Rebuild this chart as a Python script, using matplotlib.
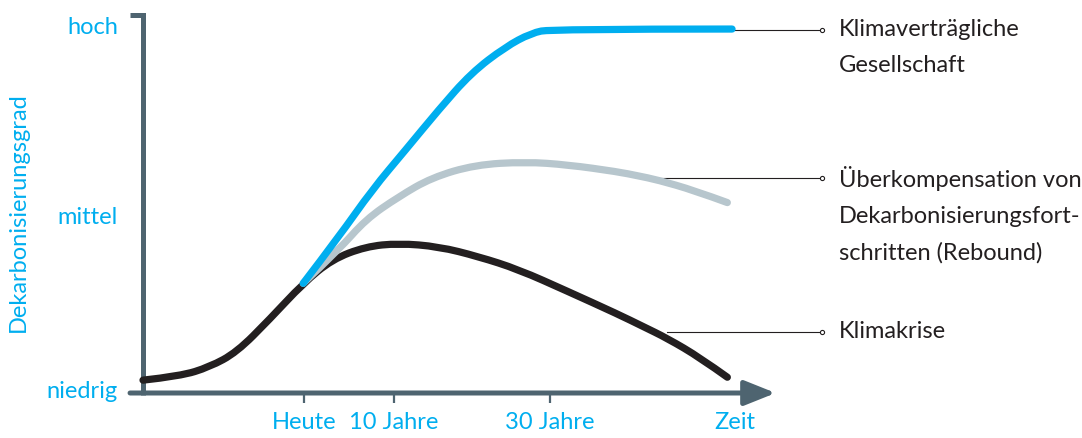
import numpy as np
import matplotlib
matplotlib.use("Agg")
import matplotlib.pyplot as plt
from matplotlib.path import Path
from matplotlib.patches import PathPatch

plt.rcParams["font.family"] = ["Lato", "DejaVu Sans"]

BLUE = "#00AEEF"
GREY = "#B7C6CD"
BLACK = "#231F20"
SLATE = "#4E6470"

# schematic scale: x = position on time axis (0..100 = origin..Zeit),
# y = Dekarbonisierungsgrad (0 = axis, 100 = hoch)
krise_x = [0, 6.3, 11.3, 15.9, 21.5, 27.2, 32.1, 37.8, 43.4, 50.2, 56.9, 63.7, 72.1, 80.6, 84.8, 89.0, 94.6, 99.2]
krise_y = [3.5, 4.6, 7.1, 11.1, 20.1, 29.9, 36.4, 39.9, 40.8, 39.9, 37.2, 33.7, 27.7, 21.5, 18.2, 14.9, 9.6, 4.3]

rebound_x = [27.2, 33.3, 37.8, 43.4, 49.0, 56.4, 64.9, 72.1, 80.6, 84.0, 87.3, 93.6, 99.2]
rebound_y = [29.9, 39.1, 47.3, 53.5, 58.7, 62.2, 63.0, 62.2, 60.3, 59.2, 58.1, 55.2, 51.9]

klima_x = [27.2, 33.3, 38.9, 44.6, 50.2, 55.7, 61.5, 65.9, 69.3, 100]
klima_y = [29.9, 42.7, 55.4, 66.3, 77.2, 87.2, 94.3, 98.1, 99.2, 99.2]

xtick_pos = [27.4, 42.6, 69.1, 100.5]
xtick_lab = ["Heute", "10 Jahre", "30 Jahre", "Zeit"]
ytick_pos = [1.1, 48.6, 100.3]
ytick_lab = ["niedrig", "mittel", "hoch"]

# label text, y of leader line, x where leader starts on the curve
callouts = [
    ("Klimaverträgliche\nGesellschaft", 98.9, 100.0),
    ("Überkompensation von\nDekarbonisierungsfort-\nschritten (Rebound)", 58.7, 87.3),
    ("Klimakrise", 16.6, 89.0),
]


def smooth_path(xs, ys):
    # read points used as quadratic bezier control points (midpoint scheme)
    pts = list(zip(xs, ys))
    verts = [pts[0]]
    codes = [Path.MOVETO]
    for i in range(1, len(pts) - 1):
        mid = ((pts[i][0] + pts[i + 1][0]) / 2, (pts[i][1] + pts[i + 1][1]) / 2)
        end = pts[i + 1] if i == len(pts) - 2 else mid
        verts += [pts[i], end]
        codes += [Path.CURVE3, Path.CURVE3]
    return Path(verts, codes)


fig = plt.figure(figsize=(10.82, 4.39), dpi=100)
W, H = 1082, 439
ax = fig.add_axes([143 / W, (H - 394) / H, 592 / W, 368 / H])
ax.set_xlim(0, 100)
ax.set_ylim(0, 100)
for sp in ax.spines.values():
    sp.set_visible(False)

# axes drawn by hand (bracket-like y axis + arrow x axis)
ax.plot([-2.2, 0, 0], [103, 103, -0.6], color=SLATE, lw=3.6,
        solid_joinstyle="miter", solid_capstyle="butt", clip_on=False, zorder=1)
ax.annotate("", xy=(107.4, 0), xytext=(-2.2, 0),
            arrowprops=dict(arrowstyle="-|>,head_length=1.05,head_width=0.42",
                            mutation_scale=18, color=SLATE, lw=3.6,
                            shrinkA=0, shrinkB=0),
            annotation_clip=False, zorder=1)

for xs, ys, col, z in [(krise_x, krise_y, BLACK, 3),
                       (rebound_x, rebound_y, GREY, 4),
                       (klima_x, klima_y, BLUE, 5)]:
    ax.add_patch(PathPatch(smooth_path(xs, ys), facecolor="none", edgecolor=col,
                           lw=5.2, capstyle="round", joinstyle="round",
                           clip_on=False, zorder=z))

# leader lines + labels
for text, ly, lx in callouts:
    ax.plot([lx, 115.2], [ly, ly], color=BLACK, lw=0.8, clip_on=False, zorder=2)
    ax.plot([115.2], [ly], marker="o", ms=3, mfc="white", mec=BLACK, mew=0.8,
            clip_on=False, zorder=6)
    ax.text(118.2, ly + 3.4, text, ha="left", va="top", fontsize=17, color=BLACK,
            linespacing=1.88, clip_on=False)

ax.set_xticks(xtick_pos)
ax.set_xticklabels(xtick_lab, fontsize=17, color=BLUE)
ax.tick_params(axis="x", direction="out", length=7, width=1.6, color=SLATE, pad=6)
ax.xaxis.get_major_ticks()[-1].tick1line.set_visible(False)

ax.set_yticks(ytick_pos)
ax.set_yticklabels(ytick_lab, fontsize=17, color=BLUE)
ax.tick_params(axis="y", length=0, pad=18)

ax.set_ylabel("Dekarbonisierungsgrad", fontsize=17, color=BLUE)
ax.yaxis.set_label_coords(-0.192, 0.495)

fig.savefig("out.png", dpi=100, facecolor="white")
